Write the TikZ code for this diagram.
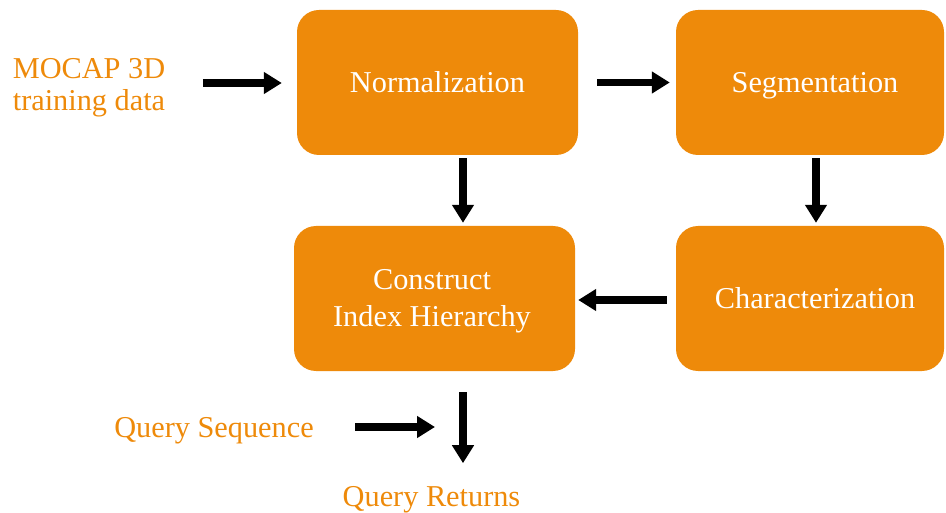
\documentclass[tikz,border=0pt]{standalone}
\usepackage{fontspec}
\setmainfont{Liberation Serif}
\usetikzlibrary{arrows.meta}
\definecolor{orng}{HTML}{EE8A0A}
\tikzset{
  box/.style={fill=orng, rounded corners=22pt, text=white, align=center, font=\fontsize{30.3}{37}\selectfont, inner sep=0pt, minimum height=145pt},
  oneline/.style={text height=20.5pt, text depth=0pt},
  wtxt/.style={text=white, align=center, font=\fontsize{30.3}{37}\selectfont, inner sep=0pt},
  lbl/.style={text=orng, align=center, font=\fontsize{30.3}{32}\selectfont, inner sep=0pt},
  arr/.style={line width=7.5pt, -{Triangle[width=21pt,length=18pt]}, black}
}
\begin{document}
\begin{tikzpicture}[x=1pt,y=-1pt]
\useasboundingbox (0,0) rectangle (946,513);
\node[box, oneline, minimum width=281pt] (norm) at (437.5,82.5) {Normalization};
\node[box, oneline, minimum width=268pt] (seg) at (810,82.5) {\hspace*{10pt}Segmentation};
\node[box, minimum width=281pt] (cons) at (434.5,298.5) {};
\node[wtxt] (consT) at (432,301.5) {Construct\\Index Hierarchy};
\node[box, oneline, minimum width=268pt] (char) at (810,298.5) {\hspace*{10pt}Characterization};
\node[lbl] (mocap) at (89,87.5) {MOCAP 3D\\training data};
\node[lbl, anchor=base] (qseq) at (214,437) {Query Sequence};
\node[lbl, anchor=base] (qret) at (431.5,506) {Query Returns};
\coordinate (qend) at (435,427);
\draw[arr] ([shift={(-94,0.5)}]norm.west) -- ([shift={(-15,0.5)}]norm.west);
\draw[arr] ([xshift=19pt]norm.east) -- ([xshift=-6pt]seg.west);
\draw[arr] ([shift={(25.5,3)}]norm.south) -- ([shift={(28.5,-3)}]cons.north);
\draw[arr] ([shift={(6,3)}]seg.south) -- ([shift={(6,-3)}]char.north);
\draw[arr] ([shift={(-9,1.5)}]char.west) -- ([shift={(3,1.5)}]cons.east);
\draw[arr] ([shift={(-80,0)}]qend) -- (qend);
\draw[arr] ([shift={(28.5,21)}]cons.south) -- ([shift={(28.5,92)}]cons.south);
\end{tikzpicture}
\end{document}
